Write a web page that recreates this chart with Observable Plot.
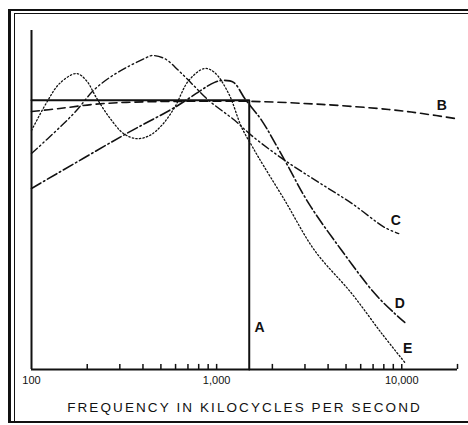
<!DOCTYPE html>
<html>
<head>
<meta charset="utf-8">
<script src="https://cdn.jsdelivr.net/npm/d3@7"></script>
<script src="https://cdn.jsdelivr.net/npm/@observablehq/plot@0.6"></script>
<style>
  html, body { margin: 0; padding: 0; background: #fff; }
  #wrap { position: relative; width: 468px; height: 425px; overflow: hidden; }
  #wrap .fr { position: absolute; box-sizing: content-box; }
  #chart { position: absolute; left: 0; top: 0; }
</style>
</head>
<body>
<div id="wrap">
  <div class="fr" style="left:8px;top:9px;width:480px;height:410px;border-left:3px solid #111;border-top:2px solid #111;border-bottom:2px solid #111"></div>
  <div class="fr" style="left:14px;top:13px;width:480px;height:408px;border-left:1.5px solid #111;border-top:1.5px solid #111"></div>
  <div id="chart"></div>
</div>
<script>
// Frequency (kc/s) and relative response
const freqA = [100, 1500, 1500];
const levelA = [79.4, 79.4, 0];

const freqB = [100, 142, 216, 326, 650, 1500, 3690, 8500, 12900, 19700];
const levelB = [76.1, 77.0, 78.2, 78.8, 79.1, 79.1, 78.2, 76.7, 75.5, 74.0];

const freqC = [100, 142, 175, 216, 264, 326, 418, 445, 524, 623, 732, 905, 1251, 1546, 2333, 3560, 5370, 8090, 9630];
const levelC = [63.7, 71.4, 76.4, 82.3, 86.1, 89.1, 92.0, 92.6, 91.7, 88.2, 84.4, 79.4, 73.5, 69.0, 61.7, 55.2, 49.0, 41.9, 40.1];

const freqD = [100, 326, 593, 975, 1091, 1235, 1416, 1546, 1750, 2333, 3143, 4740, 7150, 9170, 10380];
const levelD = [53.4, 69.6, 77.3, 84.7, 85.3, 84.7, 80.0, 77.3, 73.5, 61.7, 49.0, 35.1, 22.4, 16.5, 13.9];

const freqE = [100, 120, 142, 175, 198, 224, 264, 314, 370, 434, 505, 593, 706, 861, 975, 1161, 1365, 1546, 1687, 2333, 3385, 5370, 7800, 10380];
const levelE = [70.5, 78.5, 84.4, 87.3, 85.2, 80.2, 74.3, 69.6, 68.1, 69.0, 72.0, 77.3, 85.2, 88.8, 87.6, 81.4, 71.4, 66.1, 62.5, 49.9, 35.1, 22.4, 10.6, 2.1];

const labelText = ["A", "B", "C", "D", "E"];
const labelFreq = [1708, 16450, 9290, 9750, 10770];
const labelLevel = [12.4, 77.9, 43.9, 19.5, 6.2];

const majorTicks = [100, 1000, 10000];
const minorTicks = [200, 300, 400, 500, 600, 700, 800, 900, 1000, 2000, 3000, 4000, 5000, 6000, 7000, 8000, 9000, 10000, 20000];
const tickLength = 1.5; // in response units (about 5px)
const axisTitle = "FREQUENCY IN KILOCYCLES PER SECOND";

const toRows = (f, v) => f.map((x, i) => ({freq: x, level: v[i]}));
const ink = "#111";
const labels = labelText.map((t, i) => ({t, freq: labelFreq[i], level: labelLevel[i]}));

const chart = Plot.plot({
  width: 468,
  height: 425,
  marginLeft: 31,
  marginRight: 11,
  marginTop: 30,
  marginBottom: 56,
  x: {type: "log", domain: [100, 20000]},
  y: {domain: [0, 100], axis: null},
  style: {fontFamily: "'Liberation Sans', Arial, sans-serif", background: "transparent", color: ink},
  marks: [
    Plot.ruleX([100], {y1: 0, y2: 100, stroke: ink, strokeWidth: 2}),
    Plot.ruleX(minorTicks, {x: d => d, y1: 0, y2: tickLength, stroke: ink, strokeWidth: 1.5}),
    Plot.ruleY([0], {stroke: ink, strokeWidth: 2}),
    Plot.axisX({ticks: majorTicks, tickSize: 0, tickPadding: 7, tickFormat: d3.format(","), label: null, fontSize: 11, fill: ink}),
    Plot.line(toRows(freqB, levelB), {x: "freq", y: "level", curve: "catmull-rom", stroke: ink, strokeWidth: 1.6, strokeDasharray: "8,5"}),
    Plot.line(toRows(freqC, levelC), {x: "freq", y: "level", curve: "catmull-rom", stroke: ink, strokeWidth: 1.4, strokeDasharray: "8,3,1.5,3,1.5,3"}),
    Plot.line(toRows(freqD, levelD), {x: "freq", y: "level", curve: "catmull-rom", stroke: ink, strokeWidth: 1.6, strokeDasharray: "11,3,1.5,3"}),
    Plot.line(toRows(freqE, levelE), {x: "freq", y: "level", curve: "catmull-rom", stroke: ink, strokeWidth: 1.3, strokeDasharray: "1.4,2.2"}),
    Plot.line(toRows(freqA, levelA), {x: "freq", y: "level", stroke: ink, strokeWidth: 2}),
    Plot.text(labels, {x: "freq", y: "level", text: "t", fontSize: 14, fontWeight: "bold", fill: ink, textAnchor: "middle", lineAnchor: "middle"}),
    Plot.text([axisTitle], {frameAnchor: "bottom", dy: 38, fontSize: 13.5, fill: ink, lineAnchor: "middle"})
  ]
});
document.getElementById("chart").appendChild(chart);
d3.select(chart).selectAll("text").filter(function() { return this.textContent === axisTitle; }).attr("letter-spacing", "2.1px");
</script>
</body>
</html>
